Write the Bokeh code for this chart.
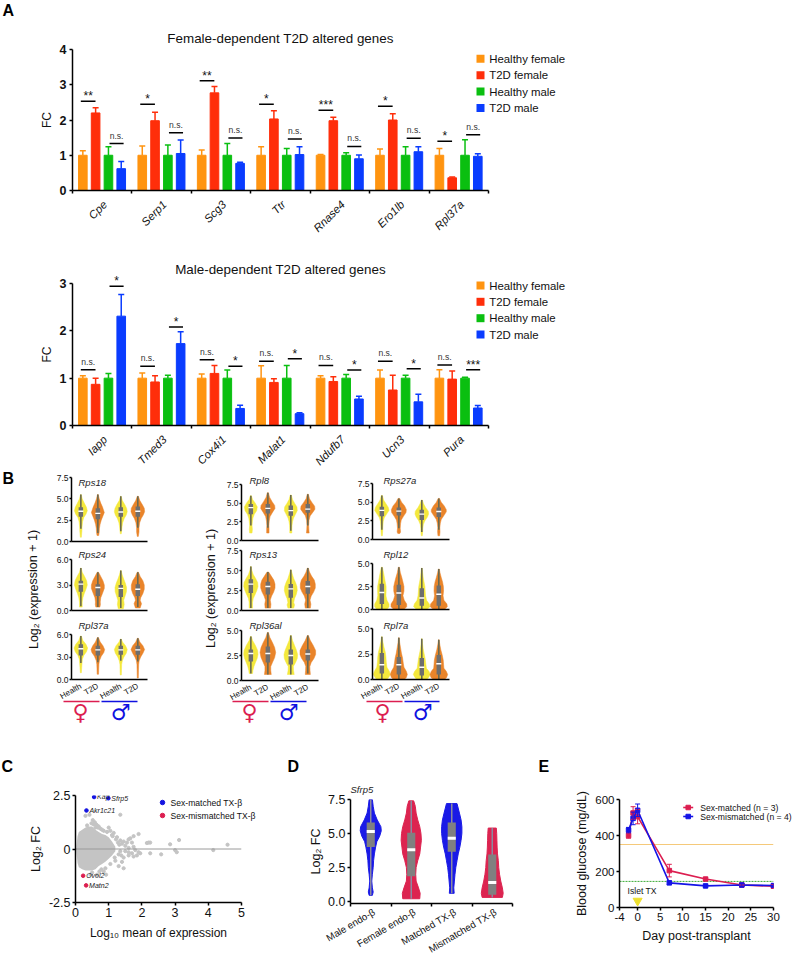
from bokeh.plotting import figure
from bokeh.models import (Range1d, FixedTicker, ColumnDataSource, Whisker, TeeHead, LabelSet,
                          Column, PrintfTickFormatter, Label)
from bokeh.core.properties import value
from bokeh.embed import file_html
from bokeh.resources import INLINE

FONT = "Liberation Sans"
COL = ["#FF9410", "#FF2E0A", "#0ABF10", "#0A3CFF"]
SERIES = ["Healthy female", "T2D female", "Healthy male", "T2D male"]

# ---- Panel A data
genes_f = ["Cpe", "Serp1", "Scg3", "Ttr", "Rnase4", "Ero1lb", "Rpl37a"]
f_hf = [1, 1, 1, 1, 1, 1, 1]
f_tf = [2.2, 1.98, 2.77, 2.03, 1.98, 2.0, 0.36]
f_hm = [1, 1, 1, 1, 1, 1, 1]
f_tm = [0.62, 1.05, 0.77, 1.02, 0.9, 1.1, 0.97]
f_hf_top = [1.13, 1.26, 1.15, 1.24, 1.02, 1.18, 1.19]
f_tf_top = [2.35, 2.22, 2.95, 2.26, 2.08, 2.18, 0.38]
f_hm_top = [1.24, 1.29, 1.33, 1.19, 1.07, 1.24, 1.44]
f_tm_top = [0.82, 1.43, 0.8, 1.24, 1.01, 1.24, 1.04]
f_sig1_y = [2.53, 2.45, 3.11, 2.45, 2.28, 2.39, 1.4]
f_sig1 = ["**", "*", "**", "*", "***", "*", "*"]
f_sig2_y = [1.33, 1.64, 1.49, 1.46, 1.25, 1.48, 1.58]
f_sig2 = ["n.s."] * 7

genes_m = ["Iapp", "Tmed3", "Cox4i1", "Malat1", "Ndufb7", "Ucn3", "Pura"]
m_hf = [1, 1, 1, 1, 1, 1, 1]
m_tf = [0.87, 0.92, 1.1, 0.91, 0.93, 0.75, 0.98]
m_hm = [1, 1, 1, 1, 1, 1, 1]
m_tm = [2.31, 1.73, 0.36, 0.25, 0.56, 0.5, 0.37]
m_hf_top = [1.05, 1.11, 1.09, 1.26, 1.05, 1.17, 1.18]
m_tf_top = [1.0, 1.05, 1.27, 0.99, 1.03, 1.06, 1.15]
m_hm_top = [1.1, 1.06, 1.17, 1.27, 1.08, 1.06, 1.02]
m_tm_top = [2.77, 1.98, 0.43, 0.27, 0.62, 0.66, 0.42]
m_sig1_y = [1.18, 1.25, 1.39, 1.36, 1.27, 1.36, 1.28]
m_sig1 = ["n.s."] * 7
m_sig2_y = [2.94, 2.08, 1.25, 1.41, 1.17, 1.2, 1.18]
m_sig2 = ["*", "*", "*", "*", "*", "*", "***"]

# ---- Panel B data: each violin = (y knots, half widths, whisker low, q1, median, q3)
rps18 = [
    ([5.5, 5.0, 4.5, 4.0, 3.6, 3.2, 2.8, 2.3, 1.7, 1.2, 0.5], [.02, .08, .2, .33, .38, .3, .17, .1, .07, .06, .03], 1.5, 2.9, 3.55, 4.0),
    ([5.5, 5.0, 4.5, 4.0, 3.4, 3.0, 2.5, 2.0, 1.5, 1.1, 0.7], [.02, .08, .17, .28, .38, .3, .2, .13, .09, .08, .05], 1.0, 2.6, 3.3, 3.9),
    ([5.3, 4.8, 4.3, 3.9, 3.5, 3.1, 2.7, 2.2, 1.7, 1.3, 0.9], [.02, .09, .24, .34, .38, .32, .2, .11, .07, .05, .03], 1.2, 2.9, 3.45, 4.0),
    ([5.3, 4.8, 4.3, 3.9, 3.5, 3.1, 2.7, 2.2, 1.6, 1.1, 0.6], [.03, .12, .27, .38, .4, .32, .2, .11, .07, .07, .03], 1.6, 2.9, 3.55, 4.1),
]
rps24 = [
    ([5.0, 4.5, 4.0, 3.5, 3.0, 2.5, 2.0, 1.5, 1.0, 0.4], [.02, .08, .22, .34, .38, .3, .2, .12, .08, .08], 0.5, 2.2, 3.1, 3.5),
    ([4.5, 4.0, 3.5, 3.0, 2.6, 2.0, 1.5, 1.0, 0.7, 0.4], [.04, .17, .3, .38, .38, .27, .17, .14, .15, .12], 0.4, 1.7, 2.7, 3.1),
    ([4.7, 4.2, 3.7, 3.2, 2.7, 2.2, 1.7, 1.2, 0.7, 0.2], [.02, .08, .17, .27, .34, .33, .25, .17, .2, .15], 0.3, 1.6, 2.6, 3.0),
    ([4.5, 4.0, 3.5, 3.0, 2.5, 2.0, 1.5, 1.2, 0.8, 0.3], [.04, .14, .3, .38, .38, .3, .17, .14, .22, .14], 0.4, 1.7, 2.5, 3.1),
]
rpl37a = [
    ([5.8, 5.2, 4.7, 4.2, 3.7, 3.2, 2.7, 2.2, 1.6, 0.9], [.03, .12, .3, .4, .33, .17, .09, .07, .05, .03], 2.2, 3.2, 4.1, 4.7),
    ([5.6, 5.0, 4.5, 4.0, 3.6, 3.1, 2.5, 2.0, 1.4, 0.7], [.03, .14, .3, .4, .35, .2, .09, .06, .05, .04], 2.3, 3.2, 3.95, 4.5),
    ([5.4, 5.0, 4.5, 4.0, 3.5, 3.0, 2.5, 2.0, 1.2, 0.6], [.03, .1, .28, .38, .32, .18, .09, .05, .04, .03], 2.5, 3.3, 3.95, 4.5),
    ([5.5, 5.0, 4.5, 4.0, 3.5, 3.0, 2.5, 2.0, 1.2, 0.2], [.03, .12, .3, .4, .3, .17, .08, .05, .04, .03], 2.4, 3.3, 3.95, 4.5),
]
rpl8 = [
    ([6.0, 5.5, 5.0, 4.5, 4.0, 3.5, 3.0, 2.5, 2.0, 1.5, 1.0], [.03, .1, .26, .38, .34, .2, .12, .09, .07, .09, .07], 2.0, 3.5, 4.4, 4.9),
    ([6.4, 5.8, 5.2, 4.7, 4.3, 3.8, 3.2, 2.6, 2.0, 1.5, 1.0], [.03, .1, .25, .4, .42, .28, .13, .08, .06, .07, .07], 1.7, 3.6, 4.3, 4.9),
    ([6.1, 5.5, 5.0, 4.5, 4.0, 3.5, 3.0, 2.5, 2.0, 1.5, 1.0], [.03, .1, .22, .36, .38, .27, .16, .1, .07, .06, .06], 1.3, 3.3, 4.0, 4.7),
    ([6.2, 5.6, 5.1, 4.6, 4.2, 3.8, 3.3, 2.7, 2.0, 1.5, 1.0], [.03, .1, .24, .4, .42, .3, .14, .07, .05, .06, .08], 2.0, 3.7, 4.2, 4.9),
]
rps13 = [
    ([5.5, 5.0, 4.5, 4.0, 3.5, 3.0, 2.5, 2.0, 1.5, 1.0, 0.3], [.02, .06, .14, .28, .4, .42, .35, .25, .14, .1, .1], 0.3, 2.2, 3.3, 3.9),
    ([4.8, 4.3, 3.8, 3.3, 2.8, 2.3, 1.8, 1.3, 0.8, 0.3], [.05, .2, .35, .42, .42, .34, .22, .14, .18, .16], 0.3, 2.0, 3.0, 3.6),
    ([5.1, 4.6, 4.0, 3.5, 3.0, 2.5, 2.0, 1.5, 1.0, 0.7, 0.3], [.02, .08, .17, .28, .36, .38, .32, .22, .17, .22, .17], 0.3, 1.6, 2.7, 3.3),
    ([5.3, 4.8, 4.3, 3.8, 3.3, 2.8, 2.3, 1.8, 1.3, 0.8, 0.3], [.03, .1, .22, .38, .44, .44, .34, .2, .13, .18, .15], 0.3, 2.1, 3.0, 3.7),
]
rpl36al = [
    ([4.4, 4.0, 3.5, 3.0, 2.6, 2.2, 1.8, 1.4, 1.0, 0.7], [.03, .1, .27, .4, .42, .37, .27, .18, .12, .1], 0.7, 1.9, 2.7, 3.1),
    ([4.8, 4.3, 3.8, 3.3, 2.8, 2.3, 1.8, 1.4, 1.0, 0.6], [.03, .12, .27, .4, .46, .4, .27, .17, .17, .2], 0.6, 1.8, 2.7, 3.4),
    ([4.5, 4.0, 3.5, 3.0, 2.6, 2.2, 1.8, 1.4, 1.0, 0.6], [.03, .1, .22, .34, .4, .38, .28, .15, .16, .2], 0.6, 1.6, 2.5, 3.1),
    ([4.5, 4.0, 3.5, 3.0, 2.6, 2.2, 1.8, 1.4, 1.0, 0.6], [.03, .15, .32, .46, .46, .36, .2, .12, .13, .15], 0.7, 2.0, 2.65, 3.1),
]
rps27a = [
    ([5.9, 5.3, 4.8, 4.3, 3.9, 3.4, 2.9, 2.4, 1.8, 1.2, 0.5], [.03, .1, .24, .38, .42, .28, .14, .08, .06, .05, .03], 1.3, 3.1, 3.9, 4.4),
    ([5.5, 5.0, 4.5, 4.0, 3.6, 3.1, 2.6, 2.1, 1.5, 1.0, 0.8], [.05, .16, .34, .44, .42, .27, .14, .1, .08, .1, .06], 1.5, 3.2, 3.8, 4.3),
    ([5.3, 4.8, 4.3, 3.8, 3.4, 3.0, 2.5, 2.0, 1.5, 1.0, 0.5], [.03, .1, .22, .38, .4, .33, .18, .09, .06, .05, .03], 1.0, 2.6, 3.4, 4.0),
    ([5.5, 5.0, 4.5, 4.0, 3.7, 3.2, 2.7, 2.2, 1.6, 1.0, 0.5], [.04, .14, .32, .44, .44, .3, .15, .09, .06, .07, .05], 1.3, 3.0, 3.75, 4.3),
]
rpl12 = [
    ([4.6, 4.0, 3.5, 3.0, 2.5, 2.0, 1.5, 1.0, 0.6, 0.3, 0.0], [.03, .1, .15, .2, .25, .25, .24, .3, .42, .42, .3], 0.0, 0.6, 1.85, 2.8),
    ([4.6, 4.0, 3.5, 3.0, 2.5, 2.0, 1.5, 1.0, 0.6, 0.3, 0.0], [.03, .09, .17, .24, .3, .3, .24, .32, .46, .46, .3], 0.0, 0.5, 1.8, 2.7),
    ([4.5, 4.0, 3.5, 3.0, 2.5, 2.0, 1.5, 1.0, 0.6, 0.3, 0.0], [.02, .05, .08, .13, .18, .2, .22, .28, .44, .48, .3], 0.0, 0.4, 1.25, 2.3),
    ([4.4, 4.0, 3.5, 3.0, 2.5, 2.0, 1.5, 1.0, 0.6, 0.3, 0.0], [.03, .07, .14, .22, .27, .28, .25, .3, .48, .5, .33], 0.0, 0.4, 1.65, 2.6),
]
rpl7a = [
    ([4.2, 3.7, 3.2, 2.7, 2.2, 1.7, 1.2, 0.8, 0.5, 0.2, 0.0], [.02, .06, .12, .2, .24, .26, .3, .44, .5, .4, .3], 0.0, 0.6, 1.45, 2.6),
    ([4.1, 3.6, 3.1, 2.6, 2.1, 1.6, 1.2, 0.8, 0.5, 0.2, 0.0], [.02, .05, .1, .15, .22, .26, .3, .44, .5, .44, .32], 0.0, 0.5, 1.45, 2.2),
    ([4.0, 3.5, 3.0, 2.5, 2.0, 1.5, 1.1, 0.8, 0.5, 0.2, 0.0], [.02, .04, .08, .14, .2, .24, .27, .42, .5, .4, .3], 0.0, 0.4, 1.2, 2.1),
    ([3.9, 3.4, 2.9, 2.4, 1.9, 1.5, 1.1, 0.8, 0.5, 0.2, 0.0], [.02, .06, .12, .2, .26, .28, .3, .44, .52, .46, .33], 0.0, 0.5, 1.55, 2.4),
]
violin_tick_labels = ["Health", "T2D", "Health", "T2D"]

# ---- Panel C data
c_env_x = [0.03, 0.06, 0.1, 0.2, 0.3, 0.4, 0.5, 0.6, 0.7, 0.8, 0.9, 1.0, 1.1, 1.2]
c_env_up = [0.15, 0.6, 0.8, 0.9, 1.0, 1.05, 1.05, 0.9, 0.8, 0.7, 0.65, 0.55, 0.35, 0.1]
c_env_lo = [-0.15, -0.65, -0.85, -0.95, -1.0, -1.0, -1.0, -0.95, -0.8, -0.7, -0.6, -0.45, -0.3, -0.1]
c_x = [.3, .42, 1.35, .52, .58, .62, .65, .7, .75, .85, 1.0, 1.05, 1.15, 1.1, 1.25, 1.2, 1.05, .9, .85, .65, .92, .45,
       1.3, 1.45, 1.35, 1.4, 1.45, 1.5, 1.55, 1.6, 1.65, 1.75, 1.9, 1.7, 1.75, 1.6, 1.5, 1.6, 1.7, 1.8, 1.9, 1.95, 1.85,
       1.75, 1.6, 1.45, 1.4, 1.3, 1.35, 2.15, 2.2, 2.25, 2.25, 2.58, 2.85, 3.0, 3.05, 3.12, 4.15, 4.58,
       .55, .48, .6, .35, .5, .72, .78, .68, .8, .95, 1.12, 1.18, 1.22, 1.28, 1.32, 1.38]
c_y = [1.55, 1.6, 1.6, 1.35, 1.25, 1.15, 1.1, 1.05, .95, .85, 1.0, .85, .75, .65, .55, -.55, -.7, -.9, -1.05, -1.2, -1.2, -1.2,
       -.8, -.9, .4, .25, .35, .15, .3, .45, .5, .6, .7, .3, .1, .05, -.1, -.15, -.2, -.05, -.15, -.2, -.3,
       -.35, -.3, -.4, -.6, -.25, -.1, .28, .3, .3, -.2, -.25, .22, -.05, -.15, .42, -.05, .2,
       1.15, 1.2, 1.0, 1.1, -1.1, -1.05, -.95, 1.0, .9, .8, .6, -.4, .45, .3, .2, -.3]
c_blue_x = [0.56, 0.99, 0.33]
c_blue_y = [2.43, 2.37, 1.8]
c_blue_names = ["Kap", "Sfrp5", "Akr1c21"]
c_red_x = [0.23, 0.32]
c_red_y = [-1.25, -1.7]
c_red_names = ["Ovol2", "Matn2"]

# ---- Panel D data
d_cats = ["Male endo-β", "Female endo-β", "Matched TX-β", "Mismatched TX-β"]
d_male_y = [7.5, 7.0, 6.5, 6.0, 5.5, 5.2, 4.8, 4.4, 4.0, 3.5, 3.0, 2.5, 2.0, 1.5, 1.0, 0.7, 0.45]
d_male_w = [.04, .06, .09, .16, .25, .26, .22, .15, .12, .09, .07, .06, .04, .025, .04, .06, .04]
d_fem_y = [7.4, 7.0, 6.5, 6.0, 5.5, 5.0, 4.5, 4.0, 3.5, 3.0, 2.5, 2.0, 1.5, 1.0, 0.6, 0.2]
d_fem_w = [.06, .1, .12, .16, .21, .24, .25, .23, .21, .16, .12, .11, .12, .18, .22, .21]
d_mat_y = [7.2, 6.5, 6.0, 5.5, 5.0, 4.5, 4.0, 3.5, 3.0, 2.5, 2.0, 1.5, 1.0, 0.6]
d_mat_w = [.13, .19, .23, .25, .25, .23, .2, .16, .13, .1, .08, .065, .05, .06]
d_mis_y = [5.4, 5.0, 4.5, 4.0, 3.5, 3.0, 2.5, 2.0, 1.5, 1.0, 0.6, 0.3]
d_mis_w = [.1, .11, .115, .12, .13, .15, .16, .18, .21, .25, .27, .25]
d_q1 = [4.0, 1.85, 3.65, 0.5]
d_med = [5.15, 3.8, 4.65, 1.4]
d_q3 = [5.8, 5.05, 5.8, 3.45]

# ---- Panel E data
e_day = [-2, -1, 0, 7, 15, 23, 30]
e_matched = [400, 525, 505, 205, 158, 125, 118]
e_matched_err = [15, 35, 40, 35, 8, 5, 10]
e_mismatched = [430, 495, 540, 137, 120, 125, 122]
e_mismatched_err = [15, 35, 35, 10, 8, 8, 10]
e_upper_threshold = 350
e_lower_threshold = 145


def place(p, left, top, w, h):
    # every child takes no room in the column, so its margins alone fix its place on the page
    p.margin = (top, 0, -(top + h), left)


# ---- overlay for panel letters, legends and shared annotations (page pixel coordinates)
ov = figure(width=792, height=955, frame_align=False, x_range=Range1d(0, 792), y_range=Range1d(955, 0), x_axis_type=None, y_axis_type=None,
            output_backend="svg", toolbar_location=None, tools="", min_border=0,
            background_fill_color=None, border_fill_color=None, outline_line_color=None)
place(ov, 0, 0, 792, 955)
ov.grid.visible = False


def ov_text(xs, ys, texts, size, color="#111111", font=FONT, style="normal", align="left", angle=0.0):
    ov.text(x=xs, y=ys, text=texts, text_font=value(font), text_font_style=style, text_font_size=size,
            text_color=color, text_align=align, text_baseline="middle", angle=angle, angle_units="rad")


def panel(x0, y0, x1, y1, xr, yr, l=60, r=10, t=14, b=40, **kw):
    w, h = l + x1 - x0 + r, t + y1 - y0 + b
    p = figure(width=w, height=h, frame_align=False,
               x_range=Range1d(*xr), y_range=Range1d(*yr),
               output_backend="svg", toolbar_location=None, tools="",
               min_border_left=l, min_border_right=r, min_border_top=t, min_border_bottom=b,
               background_fill_color=None, border_fill_color=None, outline_line_color=None, **kw)
    place(p, x0 - l, y0 - t, w, h)
    p.grid.visible = False
    for ax in p.axis:
        ax.axis_line_color = "black"
        ax.axis_line_width = 1.5
        ax.major_tick_line_color = "black"
        ax.major_tick_line_width = 1.5
        ax.major_tick_in = 0
        ax.major_tick_out = 3
        ax.minor_tick_line_color = None
        ax.major_label_text_font = FONT
        ax.major_label_text_color = "#111111"
        ax.axis_label_text_font = FONT
        ax.axis_label_text_font_style = "normal"
        ax.axis_label_text_color = "#111111"
    return p


def bar_panel(x0, y0, x1, y1, ymax, title, genes, vals, tops, s1y, s1, s2y, s2, yticks, legend_ys, title_gap):
    p = panel(x0, y0, x1, y1, (0, 7), (0, ymax), l=64, r=20, t=40, b=62, title=title)
    p.title.align = "center"
    p.title.text_font = FONT
    p.title.text_font_style = "normal"
    p.title.text_font_size = "13.4px"
    p.title.text_color = "#111111"
    p.title.standoff = title_gap
    offs = [0.174, 0.389, 0.605, 0.82]
    for k in range(4):
        xs = [i + offs[k] for i in range(7)]
        src = ColumnDataSource(dict(x=xs, v=vals[k], t=tops[k]))
        wh = Whisker(source=src, base="x", upper="t", lower="v", line_color=COL[k], line_width=1.5,
                     upper_head=TeeHead(size=6, line_color=COL[k], line_width=1.5), lower_head=None)
        p.add_layout(wh)
        p.vbar(x="x", top="v", width=0.145, bottom=0, color=COL[k], source=src)
    for ys, texts, a, c in [(s1y, s1, 0.14, 0.387), (s2y, s2, 0.623, 0.86)]:
        xa = [i + a for i in range(7)]
        xb = [i + c for i in range(7)]
        p.segment(xa, ys, xb, ys, line_color="black", line_width=1.5)
        # the significance marks may rise over the frame's top, so they go on the page-wide overlay
        for ns, size, off, col in [(True, "8.6px", 8, "#333333"), (False, "12px", 5, "#111111")]:
            idx = [i for i in range(7) if (texts[i] == "n.s.") == ns]
            if idx:
                ov_text([x0 + (xa[i] + xb[i]) / 2 / 7 * (x1 - x0) for i in idx],
                        [y1 - ys[i] / ymax * (y1 - y0) - off for i in idx],
                        [texts[i] for i in idx], size, color=col, align="center")
    xa = p.xaxis[0]
    centers = [i + 0.55 for i in range(7)]
    xa.ticker = FixedTicker(ticks=centers, minor_ticks=list(range(8)))
    xa.major_label_overrides = {c: g for c, g in zip(centers, genes)}
    xa.major_label_orientation = 0.785
    xa.major_label_text_font_style = "italic"
    xa.major_label_text_font_size = "11.3px"
    xa.major_tick_line_color = None
    xa.major_tick_out = 0
    xa.minor_tick_line_color = "black"
    xa.minor_tick_line_width = 1.5
    xa.minor_tick_out = 3
    xa.minor_tick_in = 0
    xa.major_label_standoff = 9
    ya = p.yaxis[0]
    ya.ticker = FixedTicker(ticks=yticks)
    ya.major_label_text_font_style = "bold"
    ya.major_label_text_font_size = "12.5px"
    ya.major_label_standoff = 3
    ya.axis_label = "FC"
    ya.axis_label_text_font_size = "12px"
    ya.axis_label_standoff = 3
    ov.rect([480] * 4, legend_ys, 8, 8, fill_color=COL, line_color=None)
    ov_text([488.7] * 4, legend_ys, SERIES, "11.4px")
    return p


def violin_panel(x0, y0, x1, y1, ymax, yticks, violins, bottom):
    p = panel(x0, y0, x1, y1, (0, (x1 - x0) / 17), (0, ymax), l=26, r=6, t=10, b=34 if bottom else 5)
    centers = [0.55, 1.55, 2.9, 3.9]
    colors = ["#F4E83C", "#E9842A", "#F4E83C", "#E9842A"]
    for c, col, (ys, hw, wlo, q1, med, q3) in zip(centers, colors, violins):
        xs = [c + w for w in hw] + [c - w for w in reversed(hw)]
        yy = list(ys) + list(reversed(ys))
        p.patch(xs, yy, fill_color=col, line_color=col, line_width=0.5)
        p.segment([c], [wlo], [c], [ys[0]], line_color="#6a6a50", line_width=1.6)
        p.quad(left=[c - 0.13], right=[c + 0.13], bottom=[q1], top=[q3], fill_color="#6e6e6e", line_color=None)
        p.segment([c - 0.15], [med], [c + 0.15], [med], line_color="white", line_width=1.4)
    ya = p.yaxis[0]
    ya.ticker = FixedTicker(ticks=yticks)
    ya.formatter = PrintfTickFormatter(format="%.1f")
    ya.major_label_text_font_size = "8.5px"
    ya.major_label_standoff = 1
    ya.major_tick_out = 2
    xa = p.xaxis[0]
    xa.ticker = FixedTicker(ticks=centers)
    xa.major_tick_line_color = None
    xa.major_tick_out = 0
    if bottom:
        xa.major_label_overrides = {c: t for c, t in zip(centers, violin_tick_labels)}
        xa.major_label_orientation = 0.52
        xa.major_label_text_font_size = "8px"
        xa.major_label_standoff = 6
    else:
        xa.major_label_text_font_size = "0px"
        xa.major_label_text_color = None
    return p


ov_text([2, 2, 1, 287, 538], [9.5, 477.5, 766, 766, 766], ["A", "B", "C", "D", "E"], "16px", color="#000000", style="bold")
ov_text([33, 210.5], [589, 588], ["Log₂ (expression + 1)"] * 2, "12.5px", align="center", angle=1.5708)
ov.segment([63, 232, 366], [701, 701, 701], [99, 268, 402], [701, 701, 701], line_color="#DC1E50", line_width=1.5)
ov.segment([101, 270, 404], [701, 701, 701], [137, 306, 439], [701, 701, 701], line_color="#1010E0", line_width=1.5)
ov_text([80, 249, 382], [712, 712, 712], ["♀"] * 3, "22px", color="#DC1E50", font="DejaVu Sans", align="center")
ov_text([120, 288, 422], [712, 712, 712], ["♂"] * 3, "22px", color="#1010E0", font="DejaVu Sans", align="center")
gene_names = ["Rps18", "Rps24", "Rpl37a", "Rpl8", "Rps13", "Rpl36al", "Rps27a", "Rpl12", "Rpl7a"]
ov_text([78, 78, 78, 249, 249, 249, 383, 383, 383], [482, 554, 625, 480, 554, 625, 480, 554, 625], gene_names,
        "9.5px", color="#222222", style="italic")
ov_text([350], [789], ["Sfrp5"], "9.5px", color="#222222", style="italic")

# ---- Panel A
a1 = bar_panel(72, 49, 488, 190, 4, "Female-dependent T2D altered genes", genes_f,
               [f_hf, f_tf, f_hm, f_tm], [f_hf_top, f_tf_top, f_hm_top, f_tm_top],
               f_sig1_y, f_sig1, f_sig2_y, f_sig2, [0, 1, 2, 3, 4], [58.3, 74.7, 91, 107.4], 8)
a2 = bar_panel(72, 283, 488, 425, 3, "Male-dependent T2D altered genes", genes_m,
               [m_hf, m_tf, m_hm, m_tm], [m_hf_top, m_tf_top, m_hm_top, m_tm_top],
               m_sig1_y, m_sig1, m_sig2_y, m_sig2, [0, 1, 2, 3], [285, 301.3, 317.7, 334], 14)

# ---- Panel B
tk75 = [0, 2.5, 5, 7.5]
tk6 = [0, 3, 6]
tk5 = [0, 2.5, 5]
b_figs = [
    violin_panel(71, 477, 147, 541, 7.5, tk75, rps18, False),
    violin_panel(71, 559, 147, 610, 6, tk6, rps24, False),
    violin_panel(71, 634, 147, 679, 6, tk6, rpl37a, True),
    violin_panel(241, 484, 318, 540, 7.5, tk75, rpl8, False),
    violin_panel(241, 550, 318, 610, 7.5, tk75, rps13, False),
    violin_panel(241, 630, 318, 680, 5, tk5, rpl36al, True),
    violin_panel(372, 483, 449, 539, 7.5, tk75, rps27a, False),
    violin_panel(372, 563, 449, 609, 5, tk5, rpl12, False),
    violin_panel(372, 628, 449, 679, 5, tk5, rpl7a, True),
]

# ---- Panel C
c = panel(75, 795, 241, 902, (0, 5), (-2.5, 2.5), l=50, r=18, t=8, b=44)
c.varea(c_env_x, c_env_up, c_env_lo, fill_color="#C4C4C4")
c.scatter(c_x, c_y, size=3.2, color="#C4C4C4")
c.line([0, 5], [0, 0], line_color="#9a9a9a", line_width=1)
c.scatter(c_blue_x, c_blue_y, size=3.6, color="#1414E0")
c.scatter(c_red_x, c_red_y, size=3.6, color="#DC1E50")
for xs, ys, names in [(c_blue_x, c_blue_y, c_blue_names), (c_red_x, c_red_y, c_red_names)]:
    c.add_layout(LabelSet(x="x", y="y", text="t", source=ColumnDataSource(dict(x=xs, y=ys, t=names)), x_offset=3,
                          text_baseline="middle", text_font=value(FONT), text_font_style="italic",
                          text_font_size="7px", text_color="#222222"))
c.xaxis[0].ticker = FixedTicker(ticks=[0, 1, 2, 3, 4, 5])
c.yaxis[0].ticker = FixedTicker(ticks=[-2.5, 0, 2.5])
c.yaxis[0].major_label_overrides = {-2.5: "-2.5", 0: "0", 2.5: "2.5"}
c.xaxis[0].major_label_text_font_size = "12.5px"
c.yaxis[0].major_label_text_font_size = "12.5px"
c.xaxis[0].major_label_standoff = 2
c.yaxis[0].major_label_standoff = 2
c.xaxis[0].axis_label = "Log₁₀ mean of expression"
c.yaxis[0].axis_label = "Log₂ FC"
c.xaxis[0].axis_label_text_font_size = "12px"
c.yaxis[0].axis_label_text_font_size = "12.5px"
c.xaxis[0].axis_label_standoff = 6
c.yaxis[0].axis_label_standoff = 3
ov.scatter([162, 162], [802, 815], size=4.5, color=["#1414E0", "#DC1E50"])
ov_text([170, 170], [802, 815], ["Sex-matched TX-β", "Sex-mismatched TX-β"], "8.6px")

# ---- Panel D
d = panel(350, 799, 512, 903, (0, 4), (-0.15, 7.5), l=44, r=8, t=8, b=20)
d_blue, d_red = "#1A1AE6", "#DC2450"
d_shapes = [(d_male_y, d_male_w, d_blue), (d_fem_y, d_fem_w, d_red), (d_mat_y, d_mat_w, d_blue), (d_mis_y, d_mis_w, d_red)]
for i, (ys, ws, col) in enumerate(d_shapes):
    m = i + 0.5
    d.patch([m + w for w in ws] + [m - w for w in reversed(ws)], list(ys) + list(reversed(ys)), fill_color=col, line_color=col)
    d.segment([m], [ys[-1]], [m], [ys[0]], line_color="#8A8AA0", line_width=1.5)
d_c = [0.5, 1.5, 2.5, 3.5]
d.vbar(x=d_c, bottom=d_q1, top=d_q3, width=0.2, fill_color="#808080", line_color=None)
d.segment([x - 0.1 for x in d_c], d_med, [x + 0.1 for x in d_c], d_med, line_color="white", line_width=3)
xa = d.xaxis[0]
xa.ticker = FixedTicker(ticks=[0, 1, 2, 3, 4])
xa.major_label_text_font_size = "0px"
xa.major_label_text_color = None
xa.major_tick_out = 3
# the long rotated labels would eat into the frame as axis labels, so they sit on the overlay
ov_text([350 + x / 4 * 162 + 3.5 for x in d_c], [910.5] * 4, d_cats, "9.8px", align="right", angle=0.53)
ya = d.yaxis[0]
ya.ticker = FixedTicker(ticks=[0, 2.5, 5, 7.5])
ya.formatter = PrintfTickFormatter(format="%.1f")
ya.major_label_text_font_size = "12.5px"
ya.major_label_standoff = 2
ya.axis_label = "Log₂ FC"
ya.axis_label_text_font_size = "12.5px"
ya.axis_label_standoff = 2

# ---- Panel E
e = panel(619, 799, 773, 907, (-4, 30), (0, 600), l=50, r=19, t=8, b=40)
red_e, blue_e = "#DC1E50", "#1414E6"
e.line([-4, 30], [e_upper_threshold] * 2, line_color="#F5C97A", line_width=1)
e.line([-4, 30], [e_lower_threshold] * 2, line_color="#3AAA35", line_width=1, line_dash="2 1")
for ys, err, col in [(e_matched, e_matched_err, red_e), (e_mismatched, e_mismatched_err, blue_e)]:
    src = ColumnDataSource(dict(x=e_day, y=ys, lo=[a - b for a, b in zip(ys, err)], hi=[a + b for a, b in zip(ys, err)]))
    e.add_layout(Whisker(source=src, base="x", upper="hi", lower="lo", line_color=col, line_width=1,
                         upper_head=TeeHead(size=5, line_color=col, line_width=1),
                         lower_head=TeeHead(size=5, line_color=col, line_width=1), level="glyph"))
    e.line("x", "y", source=src, line_color=col, line_width=1.6)
    e.scatter("x", "y", source=src, marker="square", size=4.5, color=col)
e.scatter([0], [37], marker="inverted_triangle", size=9, color="#EDE02F")
e.add_layout(Label(x=1, y=90, text="Islet TX", text_font=FONT, text_font_size="8.6px", text_color="#111111",
                   text_align="center", text_baseline="middle"))
ov.segment([682.7, 682.7], [807, 816], [692.7, 692.7], [807, 816], line_color=[red_e, blue_e], line_width=1.6)
ov.scatter([687.7, 687.7], [807, 816], marker="square", size=4.5, color=[red_e, blue_e])
ov_text([699.7, 699.7], [807, 816], ["Sex-matched (n = 3)", "Sex-mismatched (n = 4)"], "8.6px")
e.xaxis[0].ticker = FixedTicker(ticks=[-4, 0, 5, 10, 15, 20, 25, 30])
e.xaxis[0].major_label_overrides = {-4: "-4"}
e.yaxis[0].ticker = FixedTicker(ticks=[0, 200, 400, 600])
e.xaxis[0].major_label_text_font_size = "11.5px"
e.yaxis[0].major_label_text_font_size = "11.5px"
e.xaxis[0].major_label_standoff = 2
e.yaxis[0].major_label_standoff = 2
e.xaxis[0].axis_label = "Day post-transplant"
e.yaxis[0].axis_label = "Blood glucose (mg/dL)"
e.xaxis[0].axis_label_text_font_size = "12.5px"
e.yaxis[0].axis_label_text_font_size = "12.5px"
e.xaxis[0].axis_label_standoff = 5
e.yaxis[0].axis_label_standoff = 3

root = Column(children=[ov, a1, a2] + b_figs + [c, d, e], width=792, height=955)
open("out.html", "w").write(file_html(root, INLINE))
